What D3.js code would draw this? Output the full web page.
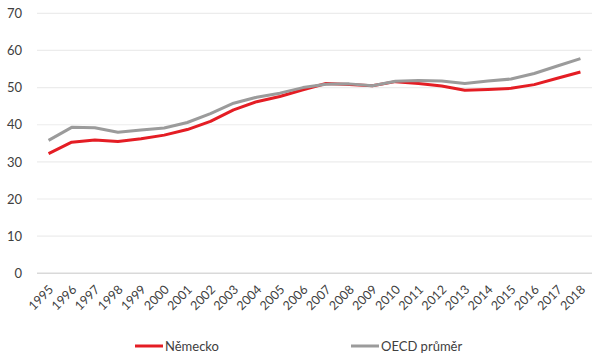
<!DOCTYPE html>
<html><head><meta charset="utf-8">
<script src="https://cdn.jsdelivr.net/npm/d3@7"></script>
<style>body{margin:0;background:#fff}svg{display:block}</style>
</head><body>
<svg id="c" width="600" height="360"></svg>
<script>
const years = ["1995","1996","1997","1998","1999","2000","2001","2002","2003","2004","2005","2006","2007","2008","2009","2010","2011","2012","2013","2014","2015","2016","2017","2018"];
const nemecko = [32.2,35.3,35.9,35.5,36.2,37.2,38.7,40.9,44.0,46.2,47.6,49.4,51.1,50.8,50.5,51.6,51.1,50.4,49.3,49.5,49.8,50.8,52.5,54.2];
const oecd = [35.8,39.3,39.2,38.0,38.6,39.1,40.6,43.0,45.8,47.4,48.5,50.0,50.9,51.0,50.5,51.7,51.9,51.8,51.1,51.8,52.3,53.8,55.8,57.8];
const yTicks = [0,10,20,30,40,50,60,70];
const seriesNames = ["Německo","OECD průměr"];
const colors = ["#e41d24","#9b9b9b"];

const svg = d3.select("#c");
const font = "Lato, 'Open Sans', sans-serif";
const L = 37, R = 592, T = 13.3, B = 273.3;
const x = d3.scalePoint().domain(years).range([L, R]).padding(0.5);
const y = d3.scaleLinear().domain([0,70]).range([B, T]);

// grid
svg.append("g").selectAll("line").data(yTicks.filter(d=>d>0)).join("line")
  .attr("x1", L).attr("x2", R).attr("y1", d=>y(d)).attr("y2", d=>y(d))
  .attr("stroke", "#ececec").attr("stroke-width", 1.2);
svg.append("line").attr("x1", L).attr("x2", R).attr("y1", y(0)).attr("y2", y(0))
  .attr("stroke", "#d9d9d9").attr("stroke-width", 1.6);

// y axis labels
const ya = svg.append("g").attr("transform", `translate(${L-15},0)`)
  .call(d3.axisLeft(y).tickValues(yTicks).tickSize(0).tickPadding(0));
ya.select(".domain").remove();
ya.selectAll("text").attr("font-family", font).attr("font-size", 13).attr("fill", "#404040");

// x axis labels
const xa = svg.append("g").attr("transform", `translate(0,${B})`)
  .call(d3.axisBottom(x).tickSize(0).tickPadding(0));
xa.select(".domain").remove();
xa.selectAll("text")
  .attr("font-family", font).attr("font-size", 12.5).attr("fill", "#404040")
  .attr("text-anchor", "end").attr("dy", "0.35em")
  .attr("transform", "translate(2,14) rotate(-45)");

// lines
const line = d3.line().x((d,i)=>x(years[i])).y(d=>y(d));
[nemecko, oecd].forEach((s,k)=>{
  svg.append("path").datum(s).attr("d", line).attr("fill","none")
    .attr("stroke", colors[k]).attr("stroke-width", 3).attr("stroke-linejoin","round");
});

// legend
const lg = [{x:135},{x:351}];
seriesNames.forEach((n,k)=>{
  const g = svg.append("g").attr("transform", `translate(${lg[k].x},346)`);
  g.append("line").attr("x1",0).attr("x2",28).attr("y1",0).attr("y2",0)
    .attr("stroke", colors[k]).attr("stroke-width", 3);
  g.append("text").attr("x", 30).attr("y", 0).attr("dy","0.35em")
    .attr("font-family", font).attr("font-size", 13).attr("fill", "#404040").text(n);
});
</script>
</body></html>
